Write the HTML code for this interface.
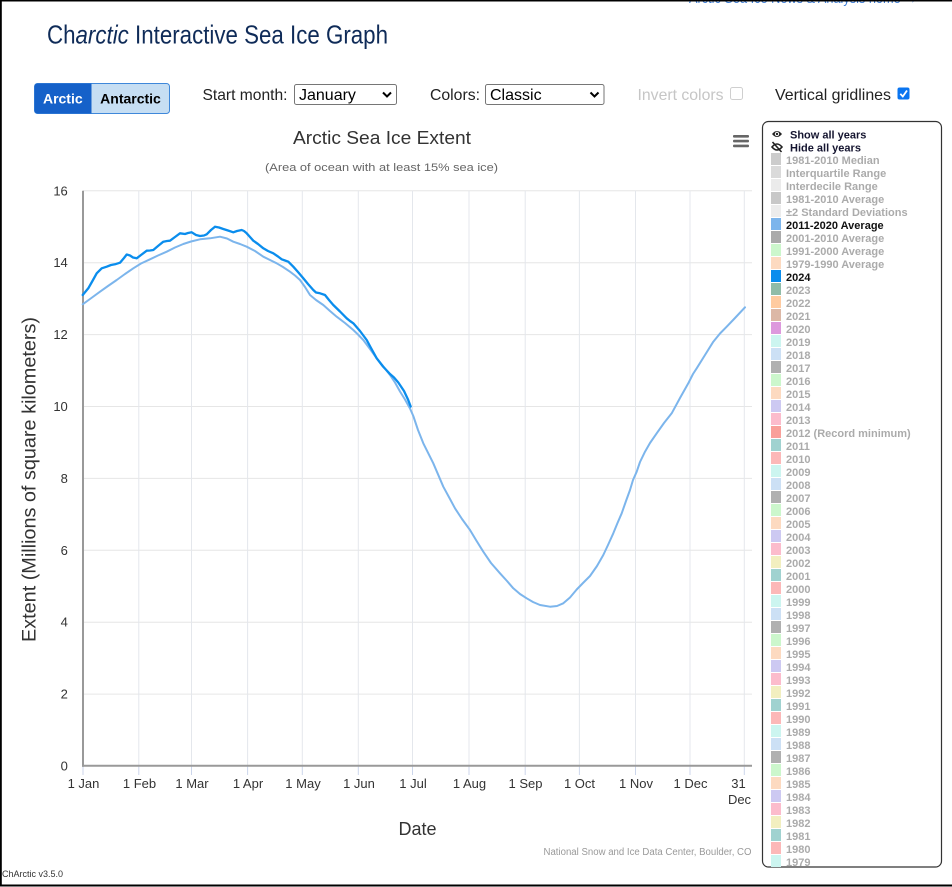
<!DOCTYPE html>
<html>
<head>
<meta charset="utf-8">
<style>
  html, body { margin: 0; padding: 0; background: #fff; }
  body { width: 952px; height: 887px; overflow: hidden; position: relative; }
  svg { display: block; }
  text { font-family: "Liberation Sans", Arial, sans-serif; }
</style>
</head>
<body>
<svg width="952" height="887" viewBox="0 0 952 887" xmlns="http://www.w3.org/2000/svg">
  <rect x="0" y="0" width="952" height="887" fill="#fff"/>

  <!-- top clipped link -->
  <text x="689" y="3" font-size="14" fill="#3b7dd8" textLength="228" lengthAdjust="spacingAndGlyphs">Arctic Sea Ice News &amp; Analysis home →</text>

  <!-- page frame -->
  <rect x="0" y="0" width="952" height="1.5" fill="#000"/>
  <rect x="0" y="0" width="1.8" height="886" fill="#000"/>
  <rect x="0" y="884.5" width="952" height="2" fill="#000"/>

  <!-- Title -->
  <text x="47" y="43.5" font-size="26" fill="#0f2b58" textLength="341" lengthAdjust="spacingAndGlyphs">Ch<tspan font-style="italic">arctic</tspan> Interactive Sea Ice Graph</text>

  <!-- Arctic/Antarctic buttons -->
  <rect x="34.5" y="83.5" width="135" height="30" rx="3" fill="#c6def3" stroke="#3f88da" stroke-width="1"/>
  <path d="M37.5 83.5 H91.5 V113.5 H37.5 A3 3 0 0 1 34.5 110.5 V86.5 A3 3 0 0 1 37.5 83.5 Z" fill="#1561c9"/>
  <text x="62.8" y="103.5" font-size="14" font-weight="bold" fill="#fff" text-anchor="middle">Arctic</text>
  <text x="130.5" y="103.5" font-size="14" font-weight="bold" fill="#000" text-anchor="middle">Antarctic</text>

  <!-- Start month -->
  <text x="202.5" y="100" font-size="16" fill="#222" textLength="85" lengthAdjust="spacingAndGlyphs">Start month:</text>
  <rect x="294.5" y="84.5" width="102" height="20" rx="2" fill="#fff" stroke="#767676"/>
  <text x="299" y="100" font-size="16" fill="#000">January</text>
  <polyline points="383,92.5 387,96.5 391,92.5" fill="none" stroke="#000" stroke-width="2"/>

  <!-- Colors -->
  <text x="430" y="100" font-size="16" fill="#222" textLength="50" lengthAdjust="spacingAndGlyphs">Colors:</text>
  <rect x="485.5" y="84.5" width="118.5" height="20" rx="2" fill="#fff" stroke="#767676"/>
  <text x="490" y="100" font-size="16" fill="#000">Classic</text>
  <polyline points="590.5,92.5 594.5,96.5 598.5,92.5" fill="none" stroke="#000" stroke-width="2"/>

  <!-- Invert colors -->
  <text x="637.5" y="100" font-size="16" fill="#c6c6c6" textLength="86" lengthAdjust="spacingAndGlyphs">Invert colors</text>
  <rect x="730.5" y="87.5" width="12" height="12" rx="2" fill="#fff" stroke="#cfcfcf"/>

  <!-- Vertical gridlines -->
  <text x="775" y="100" font-size="16" fill="#222" textLength="116" lengthAdjust="spacingAndGlyphs">Vertical gridlines</text>
  <rect x="897.5" y="87.5" width="12" height="12" rx="2" fill="#0a75f0"/>
  <polyline points="900.3,93.8 902.8,96.5 907,90.5" fill="none" stroke="#fff" stroke-width="1.8"/>

  <!-- Chart title -->
  <text x="293" y="144" font-size="18.5" fill="#333" textLength="178" lengthAdjust="spacingAndGlyphs">Arctic Sea Ice Extent</text>
  <text x="265" y="171" font-size="11" fill="#666" textLength="233" lengthAdjust="spacingAndGlyphs">(Area of ocean with at least 15% sea ice)</text>

  <!-- hamburger -->
  <rect x="733" y="135" width="16" height="2.6" rx="1" fill="#666"/>
  <rect x="733" y="139.8" width="16" height="2.6" rx="1" fill="#666"/>
  <rect x="733" y="144.6" width="16" height="2.6" rx="1" fill="#666"/>

  <!-- horizontal gridlines -->
  <g stroke="#e6e6e6" stroke-width="1">
    <line x1="83" y1="190.8" x2="752" y2="190.8"/>
    <line x1="83" y1="262.7" x2="752" y2="262.7"/>
    <line x1="83" y1="334.6" x2="752" y2="334.6"/>
    <line x1="83" y1="406.5" x2="752" y2="406.5"/>
    <line x1="83" y1="478.4" x2="752" y2="478.4"/>
    <line x1="83" y1="550.3" x2="752" y2="550.3"/>
    <line x1="83" y1="622.2" x2="752" y2="622.2"/>
    <line x1="83" y1="694.1" x2="752" y2="694.1"/>
  </g>
  <!-- vertical gridlines -->
  <g stroke="#e4e7ec" stroke-width="1">
    <line x1="138.8" y1="190.8" x2="138.8" y2="765"/>
    <line x1="191.5" y1="190.8" x2="191.5" y2="765"/>
    <line x1="247.6" y1="190.8" x2="247.6" y2="765"/>
    <line x1="302.3" y1="190.8" x2="302.3" y2="765"/>
    <line x1="358.3" y1="190.8" x2="358.3" y2="765"/>
    <line x1="412.5" y1="190.8" x2="412.5" y2="765"/>
    <line x1="469" y1="190.8" x2="469" y2="765"/>
    <line x1="525.2" y1="190.8" x2="525.2" y2="765"/>
    <line x1="579.4" y1="190.8" x2="579.4" y2="765"/>
    <line x1="635.5" y1="190.8" x2="635.5" y2="765"/>
    <line x1="690" y1="190.8" x2="690" y2="765"/>
    <line x1="744.3" y1="190.8" x2="744.3" y2="765"/>
  </g>
  <!-- ticks -->
  <g stroke="#ccd6eb" stroke-width="1">
    <line x1="83" y1="766" x2="83" y2="775"/>
    <line x1="138.8" y1="766" x2="138.8" y2="775"/>
    <line x1="191.5" y1="766" x2="191.5" y2="775"/>
    <line x1="247.6" y1="766" x2="247.6" y2="775"/>
    <line x1="302.3" y1="766" x2="302.3" y2="775"/>
    <line x1="358.3" y1="766" x2="358.3" y2="775"/>
    <line x1="412.5" y1="766" x2="412.5" y2="775"/>
    <line x1="469" y1="766" x2="469" y2="775"/>
    <line x1="525.2" y1="766" x2="525.2" y2="775"/>
    <line x1="579.4" y1="766" x2="579.4" y2="775"/>
    <line x1="635.5" y1="766" x2="635.5" y2="775"/>
    <line x1="690" y1="766" x2="690" y2="775"/>
    <line x1="744.3" y1="766" x2="744.3" y2="775"/>
  </g>
  <!-- axes -->
  <line x1="83" y1="190.8" x2="83" y2="766.7" stroke="#999" stroke-width="2"/>
  <line x1="82" y1="765.7" x2="752" y2="765.7" stroke="#999" stroke-width="2"/>

  <!-- y labels -->
  <g font-size="13" fill="#333" text-anchor="end">
    <text x="67.8" y="195.3">16</text>
    <text x="67.8" y="267.2">14</text>
    <text x="67.8" y="339.1">12</text>
    <text x="67.8" y="411">10</text>
    <text x="67.8" y="482.9">8</text>
    <text x="67.8" y="554.8">6</text>
    <text x="67.8" y="626.7">4</text>
    <text x="67.8" y="698.6">2</text>
    <text x="67.8" y="770.5">0</text>
  </g>
  <!-- x labels -->
  <g font-size="13" fill="#333" text-anchor="middle">
    <text x="83.5" y="788">1 Jan</text>
    <text x="139.5" y="788">1 Feb</text>
    <text x="192" y="788">1 Mar</text>
    <text x="248" y="788">1 Apr</text>
    <text x="303" y="788">1 May</text>
    <text x="359" y="788">1 Jun</text>
    <text x="413" y="788">1 Jul</text>
    <text x="469.5" y="788">1 Aug</text>
    <text x="525.5" y="788">1 Sep</text>
    <text x="579.5" y="788">1 Oct</text>
    <text x="636" y="788">1 Nov</text>
    <text x="690.5" y="788">1 Dec</text>
    <text x="738.5" y="788">31</text>
    <text x="739.5" y="804">Dec</text>
  </g>

  <!-- axis titles -->
  <text x="417.5" y="835" font-size="18" fill="#333" text-anchor="middle">Date</text>
  <text transform="translate(35.5,479.5) rotate(-90)" x="0" y="0" font-size="19" fill="#333" text-anchor="middle" textLength="325" lengthAdjust="spacingAndGlyphs">Extent (Millions of square kilometers)</text>

  <!-- credits -->
  <text x="543.5" y="855" font-size="10" fill="#999" textLength="208" lengthAdjust="spacingAndGlyphs">National Snow and Ice Data Center, Boulder, CO</text>
  <text x="2" y="877" font-size="9" fill="#333" textLength="61" lengthAdjust="spacingAndGlyphs">ChArctic v3.5.0</text>

  <!-- 2011-2020 average -->
  <polyline fill="none" stroke="#7cb5ec" stroke-width="2" stroke-linejoin="round" stroke-linecap="round"
    points="82.7,304.3 90,299 100,291.7 108,286 116.7,280 125,274 133.3,268.3 141,263.5 150,259.3 158,255.5 166.7,251.7 175,247.5 183.3,244 191,241.5 200,239.3 210,238.3 220,236.7 227,238.5 233.3,241.7 240,244 246.7,246.7 255,251 263.3,256.7 270,260 276.7,263.3 283,267 290,271.7 295,275.5 300,280 305,287 310,295 316,300 323.3,305 330,311 336.7,316.7 345,323 353.3,330 358,334.5 363.3,340 370,349 376.7,358.3 383,366 390,375 395,382.5 400,391.5 405,399.5 410,408.5 413.3,416 418,430 423.3,443.3 433.3,463.3 443.3,486.7 450,499 455,508.3 462,519 470,530 476,540 483.3,551.7 491,563 500,573.3 507,581 513.3,588.3 520,594 526.7,598.3 533,602 540,605 550,606.7 557,606 563.3,603.3 570,597.5 576.7,589.5 583,583 590,576 597,566 603.3,555 608,545 613.3,533.3 617.5,523 621.7,513.3 626,501 630,490 633,480 636.7,471.7 640,462 645,451.7 650,443 656.7,433.3 664,423 671.7,413.3 680,398 688.3,383.3 693,374 696.7,368.3 705,355 713.3,341.7 720,333.5 726.7,326.7 735,318 745,307.3"/>

  <!-- 2024 -->
  <polyline fill="none" stroke="#0a8ded" stroke-width="2.3" stroke-linejoin="round" stroke-linecap="round"
    points="82.7,295 88.3,288.3 93,280 96.7,273.3 101.7,268.3 106.7,266.7 111,265 115,264.3 120,262.7 124,258 126.7,254.5 130,255.5 133,257.5 136.7,258.3 141,255 146.7,250.7 150,250.5 153.3,250 158,246 163.3,241.7 167,241 170,240.7 175,237 180,233.3 185,234 188,233 191.7,232.3 196,235 200,236 204,235.5 206.7,234.3 211,230 215,226.7 219,227.5 223.3,229 228,230.5 233.3,232.3 237,231 241.7,230 244,231 246.7,233.3 250,237 253.3,240.7 258,244 263.3,248.3 268,251 273.3,253.3 278,256.5 281.7,259.3 285,260.5 288.3,261.7 293.3,266.7 298,272 303.3,278.3 308,284 313.3,290 316,292.5 320,293.3 325,295 329,300 333.3,305 340,311.5 346.7,318.3 350,321 353.3,323.3 360,331 366.7,340 371,348 376.7,358.3 383,366.5 390,374 394,377.5 398.3,382.5 404,391 408,399.5 410.7,406.5"/>

  <!-- Legend box -->
  <rect x="762.5" y="121.5" width="179" height="745.5" rx="6" fill="#fff" stroke="#333" stroke-width="1.2"/>

  <!-- eye icons -->
  <g>
    <path d="M772 134 Q777 128 782 134 Q777 140 772 134 Z" fill="#222"/>
    <circle cx="777" cy="134" r="2.2" fill="#fff"/>
    <circle cx="777" cy="134" r="1.2" fill="#222"/>
    <path d="M772 147 Q777 141 782 147 Q777 153 772 147 Z" fill="none" stroke="#222" stroke-width="1.6"/>
    <line x1="772.5" y1="142" x2="781.5" y2="152" stroke="#222" stroke-width="1.6"/>
  </g>
  <g font-size="11" font-weight="bold" fill="#151530">
    <text x="790" y="138.5">Show all years</text>
    <text x="790" y="151.5">Hide all years</text>
  </g>

  <!-- legend swatches -->
  <g>
    <rect x="771" y="153" width="10" height="12" fill="#cccccc"/>
    <rect x="771" y="166" width="10" height="12" fill="#dadada"/>
    <rect x="771" y="179" width="10" height="12" fill="#ebebeb"/>
    <rect x="771" y="192" width="10" height="12" fill="#c8c8c8"/>
    <rect x="771" y="205" width="10" height="12" fill="#ececec"/>
    <rect x="771" y="218" width="10" height="12" fill="#7cb5ec"/>
    <rect x="771" y="231" width="10" height="12" fill="#aaaaaa"/>
    <rect x="771" y="244" width="10" height="12" fill="#ccf7cc"/>
    <rect x="771" y="257" width="10" height="12" fill="#fddac0"/>
    <rect x="771" y="270" width="10" height="12" fill="#0a8ded"/>
    <rect x="771" y="283" width="10" height="12" fill="#90bca8"/>
    <rect x="771" y="296" width="10" height="12" fill="#ffcba0"/>
    <rect x="771" y="309" width="10" height="12" fill="#dcb8a6"/>
    <rect x="771" y="322" width="10" height="12" fill="#dd99dd"/>
    <rect x="771" y="335" width="10" height="12" fill="#ccf5f0"/>
    <rect x="771" y="348" width="10" height="12" fill="#cce0f5"/>
    <rect x="771" y="361" width="10" height="12" fill="#b0b0b0"/>
    <rect x="771" y="374" width="10" height="12" fill="#ccf7cc"/>
    <rect x="771" y="387" width="10" height="12" fill="#fddac0"/>
    <rect x="771" y="400" width="10" height="12" fill="#cdc9f2"/>
    <rect x="771" y="413" width="10" height="12" fill="#fcbccc"/>
    <rect x="771" y="426" width="10" height="12" fill="#f9a09a"/>
    <rect x="771" y="439" width="10" height="12" fill="#a0d2d0"/>
    <rect x="771" y="452" width="10" height="12" fill="#fcb8b8"/>
    <rect x="771" y="465" width="10" height="12" fill="#ccf5f0"/>
    <rect x="771" y="478" width="10" height="12" fill="#cce0f5"/>
    <rect x="771" y="491" width="10" height="12" fill="#b0b0b0"/>
    <rect x="771" y="504" width="10" height="12" fill="#ccf7cc"/>
    <rect x="771" y="517" width="10" height="12" fill="#fddac0"/>
    <rect x="771" y="530" width="10" height="12" fill="#cdc9f2"/>
    <rect x="771" y="543" width="10" height="12" fill="#fcbccc"/>
    <rect x="771" y="556" width="10" height="12" fill="#f2efc0"/>
    <rect x="771" y="569" width="10" height="12" fill="#a0d2d0"/>
    <rect x="771" y="582" width="10" height="12" fill="#fcb8b8"/>
    <rect x="771" y="595" width="10" height="12" fill="#ccf5f0"/>
    <rect x="771" y="608" width="10" height="12" fill="#cce0f5"/>
    <rect x="771" y="621" width="10" height="12" fill="#b0b0b0"/>
    <rect x="771" y="634" width="10" height="12" fill="#ccf7cc"/>
    <rect x="771" y="647" width="10" height="12" fill="#fddac0"/>
    <rect x="771" y="660" width="10" height="12" fill="#cdc9f2"/>
    <rect x="771" y="673" width="10" height="12" fill="#fcbccc"/>
    <rect x="771" y="686" width="10" height="12" fill="#f2efc0"/>
    <rect x="771" y="699" width="10" height="12" fill="#a0d2d0"/>
    <rect x="771" y="712" width="10" height="12" fill="#fcb8b8"/>
    <rect x="771" y="725" width="10" height="12" fill="#ccf5f0"/>
    <rect x="771" y="738" width="10" height="12" fill="#cce0f5"/>
    <rect x="771" y="751" width="10" height="12" fill="#b0b0b0"/>
    <rect x="771" y="764" width="10" height="12" fill="#ccf7cc"/>
    <rect x="771" y="777" width="10" height="12" fill="#fddac0"/>
    <rect x="771" y="790" width="10" height="12" fill="#cdc9f2"/>
    <rect x="771" y="803" width="10" height="12" fill="#fcbccc"/>
    <rect x="771" y="816" width="10" height="12" fill="#f2efc0"/>
    <rect x="771" y="829" width="10" height="12" fill="#a0d2d0"/>
    <rect x="771" y="842" width="10" height="12" fill="#fcb8b8"/>
    <rect x="771" y="855" width="10" height="12" fill="#ccf5f0"/>
  </g>

  <!-- legend labels -->
  <g font-size="11" font-weight="bold" fill="#ababab">
    <text x="786" y="164">1981-2010 Median</text>
    <text x="786" y="177">Interquartile Range</text>
    <text x="786" y="190">Interdecile Range</text>
    <text x="786" y="203">1981-2010 Average</text>
    <text x="786" y="216">±2 Standard Deviations</text>
    <text x="786" y="229" fill="#111">2011-2020 Average</text>
    <text x="786" y="242">2001-2010 Average</text>
    <text x="786" y="255">1991-2000 Average</text>
    <text x="786" y="268">1979-1990 Average</text>
    <text x="786" y="281" fill="#111">2024</text>
    <text x="786" y="294">2023</text>
    <text x="786" y="307">2022</text>
    <text x="786" y="320">2021</text>
    <text x="786" y="333">2020</text>
    <text x="786" y="346">2019</text>
    <text x="786" y="359">2018</text>
    <text x="786" y="372">2017</text>
    <text x="786" y="385">2016</text>
    <text x="786" y="398">2015</text>
    <text x="786" y="411">2014</text>
    <text x="786" y="424">2013</text>
    <text x="786" y="437">2012 (Record minimum)</text>
    <text x="786" y="450">2011</text>
    <text x="786" y="463">2010</text>
    <text x="786" y="476">2009</text>
    <text x="786" y="489">2008</text>
    <text x="786" y="502">2007</text>
    <text x="786" y="515">2006</text>
    <text x="786" y="528">2005</text>
    <text x="786" y="541">2004</text>
    <text x="786" y="554">2003</text>
    <text x="786" y="567">2002</text>
    <text x="786" y="580">2001</text>
    <text x="786" y="593">2000</text>
    <text x="786" y="606">1999</text>
    <text x="786" y="619">1998</text>
    <text x="786" y="632">1997</text>
    <text x="786" y="645">1996</text>
    <text x="786" y="658">1995</text>
    <text x="786" y="671">1994</text>
    <text x="786" y="684">1993</text>
    <text x="786" y="697">1992</text>
    <text x="786" y="710">1991</text>
    <text x="786" y="723">1990</text>
    <text x="786" y="736">1989</text>
    <text x="786" y="749">1988</text>
    <text x="786" y="762">1987</text>
    <text x="786" y="775">1986</text>
    <text x="786" y="788">1985</text>
    <text x="786" y="801">1984</text>
    <text x="786" y="814">1983</text>
    <text x="786" y="827">1982</text>
    <text x="786" y="840">1981</text>
    <text x="786" y="853">1980</text>
    <text x="786" y="866">1979</text>
  </g>
</svg>
</body>
</html>
